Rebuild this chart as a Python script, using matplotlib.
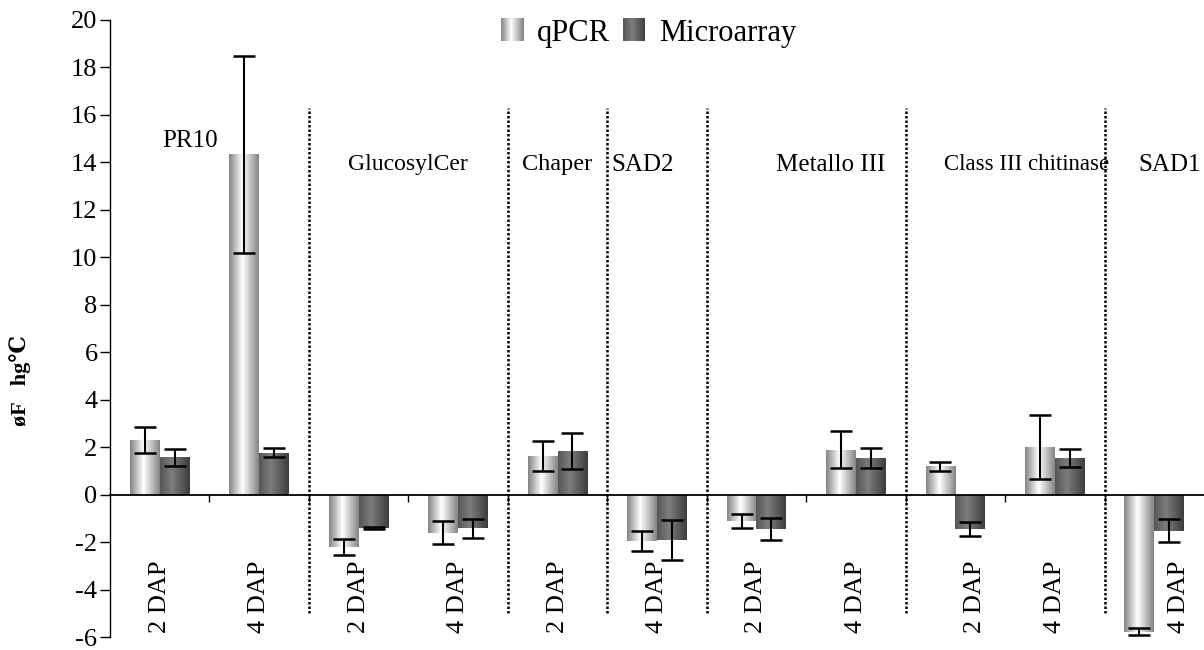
import numpy as np
import matplotlib
matplotlib.use('Agg')
import matplotlib.pyplot as plt
from matplotlib.legend_handler import HandlerBase
from matplotlib.patches import Rectangle

# Fold change per gene / time point (qPCR vs microarray)
timepoints = ['2 DAP', '4 DAP', '2 DAP', '4 DAP', '2 DAP', '4 DAP',
              '2 DAP', '4 DAP', '2 DAP', '4 DAP', '4 DAP']
qpcr = [2.3, 14.35, -2.2, -1.6, 1.62, -1.97, -1.12, 1.9, 1.19, 2.0, -5.78]
qpcr_err = [0.55, 4.15, 0.35, 0.5, 0.62, 0.42, 0.3, 0.77, 0.2, 1.35, 0.15]
micro = [1.57, 1.77, -1.4, -1.42, 1.83, -1.9, -1.45, 1.55, -1.44, 1.53, -1.52]
micro_err = [0.35, 0.2, 0.05, 0.4, 0.75, 0.85, 0.45, 0.43, 0.3, 0.38, 0.48]

genes = ['PR10', 'GlucosylCer', 'Chaper', 'SAD2', 'Metallo III',
         'Class III chitinase', 'SAD1']
gene_x = [0.3, 2.5, 4.0, 4.86, 6.75, 8.72, 10.15]
gene_y = [14.9, 13.9, 13.9, 13.9, 13.9, 13.9, 13.9]
gene_size = [18, 17, 17.5, 18, 18, 16.5, 18]
separators = [1.5, 3.5, 4.5, 5.5, 7.5, 9.5]

# nudges for time point labels that sit next to long bars
label_shift = [0, 0, 0, 0, 0, 0, 0, 0, 0.2, 0, 0.25]

plt.rcParams['font.family'] = ['Liberation Serif', 'DejaVu Serif']
plt.rcParams['axes.unicode_minus'] = False


def profile(stops, levels, n=64):
    t = np.linspace(0, 1, n)
    return np.interp(t, stops, levels)


light = profile([0, 0.45, 1], [0.52, 1.0, 0.52])
dark = profile([0, 0.4, 1], [0.34, 0.49, 0.24])


def fill_gradient(ax, patches, grad):
    for p in patches:
        x0, w, h = p.get_x(), p.get_width(), p.get_height()
        im = ax.imshow(grad[np.newaxis, :], cmap='gray', vmin=0, vmax=1,
                       extent=[x0, x0 + w, min(0, h), max(0, h)],
                       aspect='auto', interpolation='bilinear', zorder=1)
        im.set_clip_path(p)


class GradientHandler(HandlerBase):
    def __init__(self, grad):
        super().__init__()
        self.grad = grad

    def create_artists(self, legend, orig_handle, xdescent, ydescent,
                       width, height, fontsize, trans):
        n = len(self.grad)
        size = height * 1.05
        x0 = -xdescent + (width - size) / 2
        y0 = -ydescent
        return [Rectangle((x0 + i * size / n, y0), size / n * 1.05, size,
                          facecolor=str(g), edgecolor='none', transform=trans)
                for i, g in enumerate(self.grad)]


fig = plt.figure(figsize=(12.04, 6.5), dpi=100)
ax = fig.add_axes([110 / 1204, 13 / 650, 1 - 110 / 1204, 617 / 650])

x = np.arange(len(qpcr))
w = 0.3
b1 = ax.bar(x - w / 2, qpcr, w, color='none', edgecolor='none', zorder=2)
b2 = ax.bar(x + w / 2, micro, w, color='none', edgecolor='none', zorder=2)
fill_gradient(ax, b1, light)
fill_gradient(ax, b2, dark)

ax.errorbar(x - w / 2, qpcr, yerr=qpcr_err, fmt='none', ecolor='black',
            elinewidth=1.5, capsize=8, capthick=1.8, zorder=4)
ax.errorbar(x + w / 2, micro, yerr=micro_err, fmt='none', ecolor='black',
            elinewidth=1.5, capsize=8, capthick=1.8, zorder=4)

ax.vlines(separators, -5.0, 16.3, colors='black', linestyles=(0, (1, 0.8)),
          linewidth=1.8, zorder=3)

for xi, label, dx in zip(x, timepoints, label_shift):
    ax.text(xi + dx, -5.85, label, rotation=90, ha='center', va='bottom',
            fontsize=19)

for g, gx, gy, fs in zip(genes, gene_x, gene_y, gene_size):
    ax.text(gx, gy, g, ha='center', va='center', fontsize=fs)

ax.set_xlim(-0.5, 10.5)
ax.set_ylim(-6, 20)
ax.set_yticks(np.arange(-6, 21, 2))
ax.set_xticks(np.arange(0.5, 10, 1))
ax.tick_params(axis='x', labelbottom=False, direction='out', length=5,
               width=1)
ax.tick_params(axis='y', direction='out', length=7, width=1, labelsize=19,
               pad=2)

ax.spines['top'].set_visible(False)
ax.spines['right'].set_visible(False)
ax.spines['bottom'].set_position(('data', 0))
ax.spines['bottom'].set_linewidth(1.3)
ax.spines['left'].set_linewidth(1)

fig.text(20 / 1204, 1 - 380 / 650, 'øF   hg℃', rotation=90, ha='center',
         va='center', fontsize=16, fontweight='bold')

ax.legend([b1, b2], ['qPCR', 'Microarray'],
          handler_map={b1: GradientHandler(light), b2: GradientHandler(dark)},
          loc='center', bbox_to_anchor=(648 / 1204, 1 - 33 / 650),
          bbox_transform=fig.transFigure, ncol=2, frameon=False,
          fontsize=22, handlelength=0.8, handletextpad=0.4,
          columnspacing=0.4)

fig.savefig('out.png', dpi=100)
